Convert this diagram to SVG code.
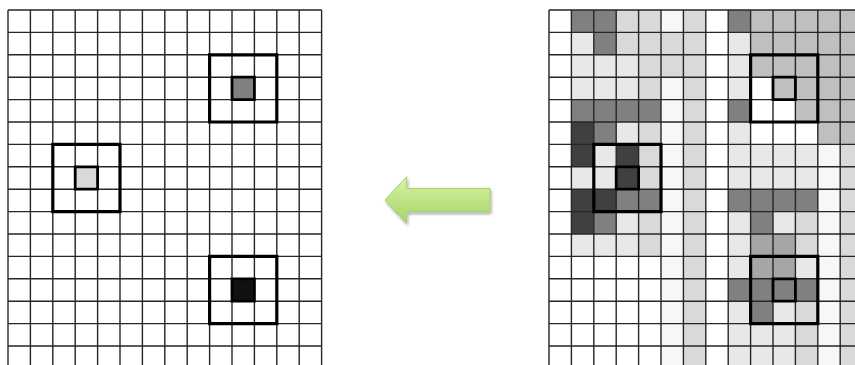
<svg xmlns="http://www.w3.org/2000/svg" width="855" height="365" viewBox="0 0 855 365">
<style>
.g{fill:#808080}.k{fill:#404040}.m{fill:#a6a6a6}.b{fill:#bfbfbf}.d{fill:#d9d9d9}.l{fill:#e8e8e8}.v{fill:#f7f7f7}.x{fill:#111111}
.grid{fill:none;stroke:#262626;stroke-width:1.4}
.box{fill:none;stroke:#000;stroke-width:3.2;vector-effect:non-scaling-stroke}
.inner{fill:none;stroke:#000;stroke-width:2.8;vector-effect:non-scaling-stroke}
</style>
<defs>
<path id="lines" vector-effect="non-scaling-stroke" d="M0 0V16M1 0V16M2 0V16M3 0V16M4 0V16M5 0V16M6 0V16M7 0V16M8 0V16M9 0V16M10 0V16M11 0V16M12 0V16M13 0V16M14 0V16M0 0H14M0 1H14M0 2H14M0 3H14M0 4H14M0 5H14M0 6H14M0 7H14M0 8H14M0 9H14M0 10H14M0 11H14M0 12H14M0 13H14M0 14H14M0 15H14"/>
<linearGradient id="ag" x1="0" y1="0" x2="0" y2="1">
<stop offset="0" stop-color="#d8f2a8"/>
<stop offset="1" stop-color="#a6d465"/>
</linearGradient>
<filter id="sh" x="-10%" y="-20%" width="130%" height="150%">
<feGaussianBlur in="SourceAlpha" stdDeviation="1.5"/>
<feOffset dx="1" dy="2" result="o"/>
<feComponentTransfer><feFuncA type="linear" slope="0.35"/></feComponentTransfer>
<feMerge><feMergeNode/><feMergeNode in="SourceGraphic"/></feMerge>
</filter>
</defs>
<rect width="855" height="365" fill="#fff"/>

<g id="left-grid" transform="translate(8,10) scale(22.4)">
<rect class="g" x="10" y="3" width="1" height="1"/>
<rect class="d" x="3" y="7" width="1" height="1"/>
<rect class="x" x="10" y="12" width="1" height="1"/>
<use href="#lines" class="grid"/>
<g id="left-box-top">
<rect class="box" x="9" y="2" width="3" height="3"/>
<rect class="inner" x="10" y="3" width="1" height="1"/>
</g>
<g id="left-box-mid">
<rect class="box" x="2" y="6" width="3" height="3"/>
<rect class="inner" x="3" y="7" width="1" height="1"/>
</g>
<g id="left-box-bottom">
<rect class="box" x="9" y="11" width="3" height="3"/>
<rect class="inner" x="10" y="12" width="1" height="1"/>
</g>
</g>

<g id="right-grid" transform="translate(549,10) scale(22.4)">
<g id="cells">
<rect class="d" x="6" y="0" width="1" height="16"/>
<rect class="d" x="4" y="0" width="1" height="4"/>
<rect class="d" x="4" y="5" width="1" height="6"/>
<rect class="d" x="3" y="0" width="1" height="2"/>
<rect class="d" x="5" y="1" width="1" height="2"/>
<rect class="d" x="13" y="6" width="1" height="10"/>
<rect class="d" x="11" y="9" width="1" height="2"/>
<rect class="d" x="11" y="13" width="1" height="3"/>
<rect class="v" x="5" y="0" width="1" height="1"/>
<rect class="v" x="5" y="3" width="1" height="13"/>
<rect class="v" x="12" y="6" width="1" height="10"/>
<rect class="b" x="9" y="0" width="5" height="3"/>
<rect class="b" x="10" y="3" width="4" height="1"/>
<rect class="b" x="11" y="4" width="3" height="1"/>
<rect class="b" x="12" y="5" width="2" height="1"/>
<rect class="l" x="1" y="1" width="1" height="1"/>
<rect class="l" x="8" y="1" width="1" height="3"/>
<rect class="l" x="8" y="5" width="1" height="3"/>
<rect class="l" x="8" y="9" width="1" height="3"/>
<rect class="l" x="8" y="13" width="1" height="3"/>
<rect class="l" x="1" y="2" width="3" height="2"/>
<rect class="l" x="3" y="5" width="1" height="1"/>
<rect class="l" x="2" y="6" width="1" height="1"/>
<rect class="l" x="9" y="6" width="3" height="2"/>
<rect class="l" x="1" y="7" width="2" height="1"/>
<rect class="l" x="3" y="9" width="1" height="1"/>
<rect class="l" x="10" y="9" width="1" height="1"/>
<rect class="l" x="1" y="10" width="3" height="1"/>
<rect class="l" x="11" y="11" width="1" height="1"/>
<rect class="l" x="10" y="13" width="1" height="1"/>
<rect class="l" x="9" y="14" width="2" height="2"/>
<rect class="g" x="1" y="0" width="2" height="1"/>
<rect class="g" x="8" y="0" width="1" height="1"/>
<rect class="g" x="2" y="1" width="1" height="1"/>
<rect class="g" x="1" y="4" width="4" height="1"/>
<rect class="g" x="8" y="4" width="1" height="1"/>
<rect class="g" x="2" y="5" width="1" height="1"/>
<rect class="g" x="3" y="8" width="2" height="1"/>
<rect class="g" x="8" y="8" width="4" height="1"/>
<rect class="g" x="2" y="9" width="1" height="1"/>
<rect class="g" x="9" y="9" width="1" height="1"/>
<rect class="g" x="8" y="12" width="4" height="1"/>
<rect class="g" x="9" y="13" width="1" height="1"/>
<rect class="k" x="1" y="5" width="1" height="2"/>
<rect class="k" x="3" y="6" width="1" height="2"/>
<rect class="k" x="1" y="8" width="2" height="1"/>
<rect class="k" x="1" y="9" width="1" height="1"/>
<rect class="m" x="9" y="10" width="2" height="2"/>
</g>
<use href="#lines" class="grid"/>
<g id="right-box-top">
<rect class="box" x="9" y="2" width="3" height="3"/>
<rect class="inner" x="10" y="3" width="1" height="1"/>
</g>
<g id="right-box-mid">
<rect class="box" x="2" y="6" width="3" height="3"/>
<rect class="inner" x="3" y="7" width="1" height="1"/>
</g>
<g id="right-box-bottom">
<rect class="box" x="9" y="11" width="3" height="3"/>
<rect class="inner" x="10" y="12" width="1" height="1"/>
</g>
</g>

<g id="connectors">
<polygon id="arrow" points="385,200 406.7,176.7 406.7,188.3 490,188.3 490,211.7 406.7,211.7 406.7,223.3" fill="url(#ag)" stroke="#a3cf6a" stroke-width="1" stroke-linejoin="miter" filter="url(#sh)"/>
</g>
</svg>
